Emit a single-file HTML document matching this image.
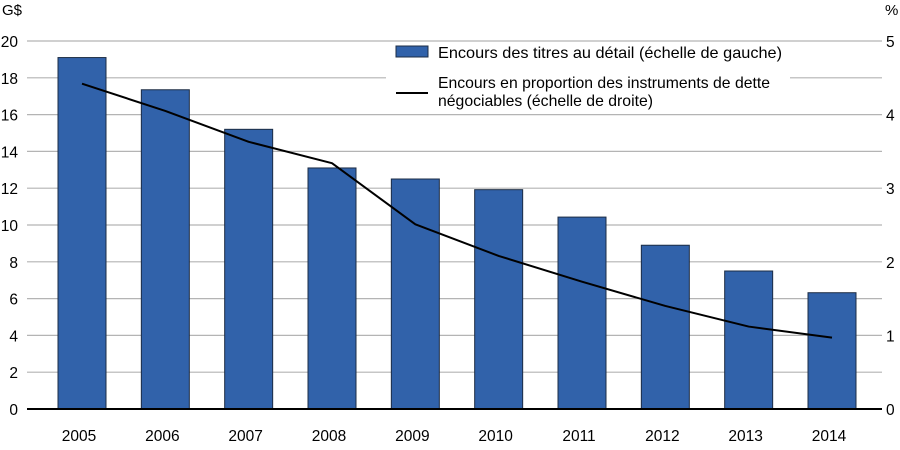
<!DOCTYPE html>
<html><head><meta charset="utf-8"><style>
body{margin:0;background:#fff;font-family:"Liberation Sans",sans-serif}
svg text{font-family:"Liberation Sans",sans-serif;fill:#000}
</style></head><body>
<svg id="c" width="900" height="445">
<g id="grid"></g>
<g id="bars"></g>
<g id="ax"></g>
<g id="legend">
<rect x="386" y="42" width="404" height="68" fill="#fff"/>
<rect x="396" y="46" width="32" height="11" fill="#3162aa" stroke="#1c2c44" stroke-width="1"/>
<text x="438" y="58" font-size="16" textLength="344" lengthAdjust="spacingAndGlyphs">Encours des titres au détail (échelle de gauche)</text>
<line x1="396" y1="93" x2="428" y2="93" stroke="#000" stroke-width="2"/>
<text x="438" y="88" font-size="16" textLength="332" lengthAdjust="spacingAndGlyphs">Encours en proportion des instruments de dette</text>
<text x="438" y="106" font-size="16" textLength="215" lengthAdjust="spacingAndGlyphs">négociables (échelle de droite)</text>
</g>
<text x="2" y="15" font-size="15">G$</text>
<text x="885" y="15" font-size="15">%</text>
</svg>
<script>
const years=["2005","2006","2007","2008","2009","2010","2011","2012","2013","2014"];
const stock=[19.1,17.35,15.2,13.1,12.5,11.92,10.43,8.9,7.5,6.32];
const share=[4.42,4.05,3.63,3.34,2.51,2.08,1.73,1.40,1.12,0.97];
const leftTicks=[0,2,4,6,8,10,12,14,16,18,20];
const rightTicks=[0,1,2,3,4,5];
const NS="http://www.w3.org/2000/svg";
const x0=27,x1=882,yb=409,yt=41;
const yL=v=>yb-(yb-yt)*v/20;
const yR=v=>yb-(yb-yt)*v/5;
const cx=i=>82+i*(750/9);
function mk(t,a,p){const e=document.createElementNS(NS,t);for(const k in a)e.setAttribute(k,a[k]);p.appendChild(e);return e;}
const grid=document.getElementById('grid'),bars=document.getElementById('bars'),ax=document.getElementById('ax');
leftTicks.forEach(v=>{
  if(v>0){const l=mk('line',{x1:x0,x2:x1,y1:yL(v),y2:yL(v),stroke:'#b4b4b4','stroke-width':1.2},grid);
  
  }
  const t=mk('text',{x:18,y:yL(v)+6,'font-size':15.5,'text-anchor':'end'},ax);t.textContent=v;
  
  
});
rightTicks.forEach(v=>{
  const t=mk('text',{x:886,y:yR(v)+6,'font-size':15.5},ax);t.textContent=v;
  
  
});
stock.forEach((v,i)=>{
  const r=mk('rect',{x:cx(i)-24,y:yL(v),width:48,height:yb-yL(v),fill:'#3162aa',stroke:'#1c2c44','stroke-width':1},bars);
  
  
  const t=mk('text',{x:cx(i)-3,y:441,'font-size':15.5,'text-anchor':'middle'},ax);t.textContent=years[i];
  
  
});
const base=mk('line',{x1:x0,x2:x1,y1:yb,y2:yb,stroke:'#000','stroke-width':2},ax);


const pl=mk('polyline',{points:share.map((v,i)=>cx(i)+','+yR(v)).join(' '),fill:'none',stroke:'#000','stroke-width':2,'stroke-linejoin':'round'},ax);


document.getElementById('c').appendChild(document.getElementById('legend'));
</script>
</body></html>
